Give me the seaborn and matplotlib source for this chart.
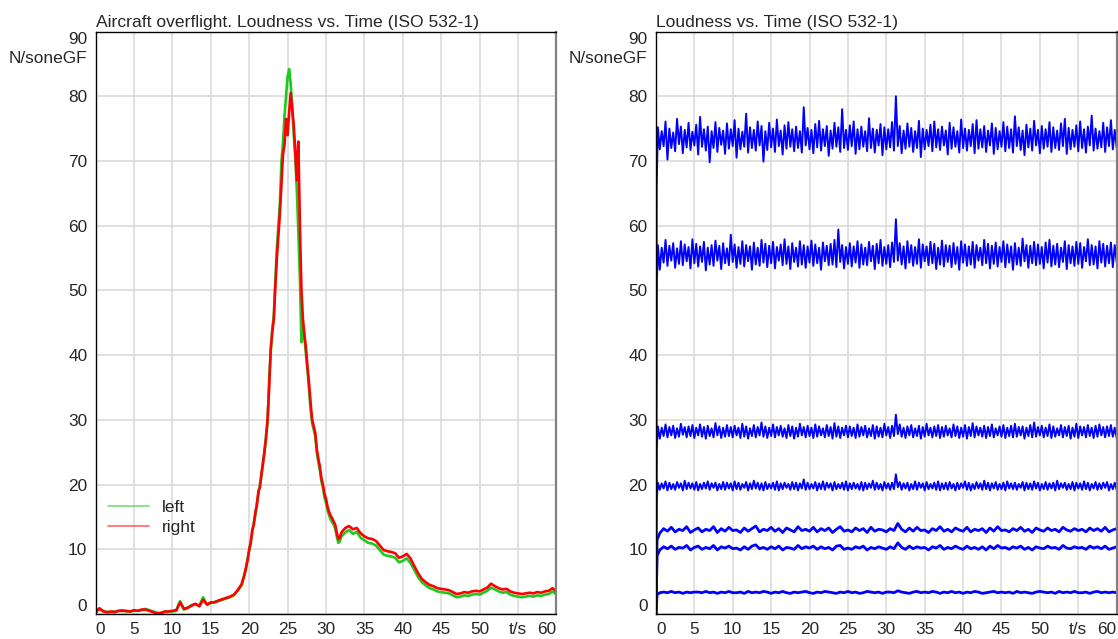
import numpy as np
import pandas as pd
import seaborn as sns
import matplotlib
matplotlib.use("Agg")
import matplotlib.pyplot as plt

sns.set_style("white")
plt.rcParams["font.family"] = ["Liberation Sans", "DejaVu Sans"]
plt.rcParams["font.size"] = 12.3

# --- aircraft overflight, loudness per channel (sone GF) ---
# time grid: 0.5 s up to 18.5 s, 0.2 s around the peak, 0.5 s again afterwards
t_air = np.round(np.concatenate([np.arange(0, 18.51, 0.5),
                                 np.arange(19.0, 31.81, 0.2),
                                 np.arange(32.0, 60.01, 0.5)]), 2)

left_ch = [
    # 0 .. 18.5 s
    0.2, 0.8, 0.5, 0.3, 0.3, 0.4, 0.5, 0.6, 0.4, 0.4,
    0.5, 0.5, 0.6, 0.8, 0.6, 0.4, 0.2, 0.1, 0.3, 0.4,
    0.4, 0.5, 2.0, 0.7, 0.9, 1.4, 1.5, 1.3, 2.6, 1.4,
    1.7, 1.9, 2.0, 2.2, 2.4, 2.6, 2.9, 3.6,
    # 19.0 .. 31.8 s
    4.4, 5.2, 6.3, 7.1, 8.6, 9.8, 11.2, 12.6, 14.2, 15.3,
    17.2, 18.5, 20.1, 21.3, 23.8, 24.8, 27.8, 29.6, 36.5, 40.2,
    44.0, 46.0, 51.5, 56.5, 60.0, 63.5, 70.0, 73.0, 77.0, 80.0,
    83.0, 84.2, 82.0, 78.5, 74.0, 70.5, 65.5, 59.0, 52.0, 42.0,
    44.5, 42.5, 40.0, 37.5, 34.5, 31.5, 29.5, 28.5, 27.5, 25.0,
    23.5, 22.2, 20.5, 19.5, 18.0, 17.2, 16.0, 15.3, 14.6, 14.2,
    13.8, 13.2, 12.0, 11.0, 11.2,
    # 32 .. 60 s
    12.0, 12.6, 13.0, 12.4, 12.7, 11.8, 11.4, 11.0, 10.9, 10.6,
    9.9, 9.2, 9.0, 8.9, 8.7, 8.0, 8.2, 8.6, 7.9, 6.8,
    5.7, 4.9, 4.4, 4.0, 3.8, 3.5, 3.4, 3.3, 3.2, 2.9,
    2.6, 2.7, 2.9, 2.8, 3.0, 3.1, 3.0, 3.3, 3.6, 4.1,
    3.8, 3.5, 3.3, 3.4, 3.0, 2.8, 2.7, 2.6, 2.7, 2.8,
    2.7, 2.9, 2.8, 3.0, 3.1, 3.5, 3.0,
]

right_ch = [
    0.3, 0.9, 0.4, 0.3, 0.4, 0.3, 0.5, 0.5, 0.5, 0.4,
    0.6, 0.5, 0.7, 0.7, 0.5, 0.3, 0.1, 0.2, 0.4, 0.4,
    0.5, 0.6, 1.8, 0.8, 1.0, 1.3, 1.6, 1.2, 2.2, 1.5,
    1.8, 1.8, 2.1, 2.3, 2.5, 2.7, 3.0, 3.7,
    4.6, 5.4, 6.1, 7.3, 8.4, 10.0, 11.0, 13.0, 13.8, 15.7,
    16.8, 19.0, 19.6, 21.8, 23.2, 25.4, 27.2, 30.4, 35.0, 41.0,
    43.5, 45.5, 50.5, 55.0, 58.5, 62.0, 66.5, 71.0, 72.5, 76.5,
    74.0, 77.5, 80.5, 78.0, 75.5, 71.5, 67.0, 73.0, 60.0, 50.0,
    45.5, 43.0, 41.0, 38.0, 35.5, 32.5, 30.0, 29.0, 28.0, 25.5,
    24.0, 22.8, 21.0, 20.0, 18.6, 17.8, 16.6, 15.8, 15.2, 14.8,
    14.3, 13.8, 12.6, 11.6, 11.8,
    12.6, 13.3, 13.6, 13.1, 13.3, 12.5, 12.0, 11.7, 11.6, 11.3,
    10.6, 9.9, 9.7, 9.6, 9.4, 8.7, 8.9, 9.3, 8.6, 7.4,
    6.3, 5.4, 4.9, 4.5, 4.3, 4.0, 3.9, 3.8, 3.7, 3.4,
    3.1, 3.2, 3.4, 3.3, 3.5, 3.6, 3.5, 3.8, 4.1, 4.7,
    4.3, 4.0, 3.8, 3.9, 3.5, 3.3, 3.2, 3.1, 3.2, 3.3,
    3.2, 3.4, 3.3, 3.5, 3.6, 4.0, 3.5,
]

# --- reference signals at several levels (sone GF) ---
# the strong signals: onset samples, then alternating peaks (0.25, 0.75 ...) and
# troughs (0.5, 1.0 ...) of the noisy trace
t_start = [0.0, 0.1]
t_hi = np.round(np.arange(0.25, 60.0, 0.5), 2)
t_lo = np.round(np.arange(0.5, 60.01, 0.5), 2)

ref_74_start = [0, 66.0]
ref_74_hi = [
    75.2, 74.6, 76.1, 75.0, 74.4, 76.5, 75.3, 74.8, 75.9, 74.5,
    75.6, 76.8, 74.9, 75.3, 74.6, 76.0, 75.1, 74.7, 75.8, 74.9,
    76.3, 75.0, 74.5, 77.3, 75.2, 74.8, 76.1, 75.4, 74.6, 75.9,
    75.0, 76.4, 74.7, 75.5, 76.0, 74.9, 75.3, 74.6, 78.3, 75.1,
    74.8, 75.7, 76.2, 74.9, 75.4, 74.7, 75.9, 75.2, 78.0, 74.8,
    75.5, 76.1, 74.9, 75.3, 74.6, 76.6, 75.0, 74.8, 75.7, 75.2,
    74.9, 76.0, 80.0, 75.4, 74.7, 75.8, 75.1, 74.6, 76.2, 75.0,
    74.8, 75.6, 76.1, 74.9, 75.3, 74.7, 75.9, 75.2, 74.6, 76.4,
    75.0, 74.8, 75.7, 76.3, 74.9, 75.4, 74.7, 75.8, 75.1, 74.6,
    76.0, 75.3, 74.9, 76.9, 75.2, 74.7, 75.6, 75.0, 76.2, 74.8,
    75.4, 74.9, 76.0, 75.2, 74.7, 75.8, 76.5, 75.1, 74.8, 75.5,
    76.1, 74.9, 75.3, 77.0, 75.0, 74.6, 75.9, 75.2, 76.3, 74.8,
]
ref_74_lo = [
    71.8, 72.3, 70.2, 72.0, 71.5, 72.6, 71.2, 72.1, 71.7, 72.4,
    71.0, 72.2, 71.6, 69.8, 72.0, 71.4, 72.5, 71.1, 71.9, 72.3,
    70.5, 71.8, 72.2, 71.3, 72.0, 71.6, 72.4, 69.9, 71.7, 72.1,
    71.4, 72.3, 71.0, 71.9, 72.2, 71.5, 72.0, 71.3, 72.4, 71.8,
    71.2, 72.1, 71.6, 72.3, 70.8, 71.9, 72.2, 71.4, 72.0, 71.7,
    72.3, 71.1, 71.8, 72.2, 71.5, 72.0, 71.3, 72.4, 70.9, 71.8,
    72.1, 71.6, 72.3, 71.2, 71.9, 72.2, 71.4, 72.0, 70.6, 71.8,
    72.3, 71.5, 72.1, 71.7, 72.4, 71.0, 71.9, 72.2, 71.3, 72.0,
    71.6, 72.3, 71.2, 71.9, 72.1, 71.4, 72.4, 71.1, 71.8, 72.2,
    71.5, 72.0, 71.3, 72.3, 71.7, 70.9, 72.1, 71.6, 72.4, 71.2,
    71.9, 72.2, 71.4, 72.0, 71.7, 72.3, 71.1, 71.8, 72.2, 71.5,
    72.0, 71.3, 72.4, 71.6, 71.9, 72.1, 71.4, 72.3, 71.8, 72.0,
]

ref_56_start = [0, 50.0]
ref_56_hi = [
    57.0, 56.6, 57.8, 56.9, 57.3, 56.5, 57.6, 57.1, 56.7, 57.9,
    57.2, 56.8, 57.5, 56.6, 57.0, 57.7, 56.9, 57.3, 56.5, 58.6,
    57.1, 56.7, 57.6, 57.0, 56.8, 57.4, 56.6, 57.8, 57.2, 56.9,
    57.5, 56.7, 57.1, 57.9, 56.8, 57.3, 56.6, 57.6, 57.0, 56.8,
    57.7, 57.1, 56.6, 57.4, 56.9, 57.2, 57.8, 59.4, 57.0, 56.7,
    57.3, 56.8, 57.6, 57.1, 56.6, 57.5, 56.9, 57.2, 57.8, 56.7,
    57.0, 57.4, 61.0, 57.3, 56.8, 57.6, 57.0, 56.7, 57.9, 57.1,
    56.8, 57.5, 57.2, 56.6, 57.7, 57.0, 56.9, 57.3, 56.7, 57.6,
    57.1, 56.8, 57.5, 57.0, 56.6, 57.8, 57.2, 56.9, 57.4, 56.7,
    57.6, 57.1, 56.8, 57.3, 56.6, 58.0, 57.0, 56.9, 57.5, 57.1,
    56.7, 57.4, 57.8, 56.9, 57.2, 56.6, 57.6, 57.0, 56.8, 57.5,
    57.3, 56.7, 57.9, 57.0, 56.8, 57.6, 57.2, 56.9, 57.4, 57.0,
]
ref_56_lo = [
    53.2, 54.3, 53.8, 54.6, 53.5, 54.1, 53.9, 54.5, 53.4, 54.2,
    53.7, 54.4, 53.1, 54.0, 53.8, 54.6, 53.3, 54.2, 53.9, 54.4,
    53.5, 54.1, 53.7, 54.5, 53.2, 54.0, 53.8, 54.3, 53.6, 54.2,
    53.4, 54.6, 53.9, 54.1, 53.3, 54.4, 53.7, 54.0, 53.5, 54.3,
    53.8, 54.2, 53.2, 54.5, 53.9, 54.0, 53.6, 54.4, 53.4, 54.1,
    53.7, 54.3, 53.5, 54.0, 53.9, 54.5, 53.3, 54.2, 53.8, 54.1,
    53.6, 54.4, 54.6, 54.0, 53.4, 54.3, 53.8, 54.1, 53.5, 54.5,
    53.9, 54.2, 53.3, 54.0, 53.7, 54.4, 53.6, 54.1, 53.2, 54.3,
    53.8, 54.0, 53.5, 54.6, 53.9, 54.2, 53.4, 54.1, 53.7, 54.4,
    53.6, 54.3, 53.2, 54.0, 53.8, 54.5, 53.5, 54.2, 53.9, 54.1,
    53.4, 54.3, 53.7, 54.0, 53.6, 54.4, 53.3, 54.2, 53.8, 54.1,
    53.5, 54.5, 53.9, 54.0, 53.4, 54.3, 53.7, 54.2, 53.6, 54.4,
]

ref_28_start = [0, 25.5]
ref_28_hi = [
    29.0, 28.8, 29.3, 28.9, 29.1, 28.7, 29.4, 28.9, 29.0, 29.2,
    28.8, 29.3, 28.9, 29.1, 28.7, 29.5, 29.0, 28.8, 29.2, 28.9,
    29.1, 28.8, 29.4, 29.0, 28.7, 29.2, 28.9, 29.6, 29.0, 28.8,
    29.3, 28.9, 29.1, 28.7, 29.2, 29.0, 28.8, 29.4, 28.9, 29.1,
    28.8, 29.3, 29.0, 28.7, 29.2, 28.9, 29.5, 29.0, 28.8, 29.1,
    29.0, 28.8, 29.3, 28.9, 29.1, 28.7, 29.2, 29.0, 28.8, 29.4,
    28.9, 29.1, 30.8, 29.3, 28.8, 29.0, 29.2, 28.7, 29.1, 28.9,
    29.4, 28.8, 29.0, 29.2, 28.9, 29.1, 28.7, 29.3, 29.0, 28.8,
    29.2, 28.9, 29.5, 29.0, 28.8, 29.1, 28.9, 29.3, 28.7, 29.0,
    29.2, 28.8, 29.1, 29.4, 28.9, 29.0, 28.8, 29.2, 29.6, 28.9,
    29.1, 28.8, 29.3, 29.0, 28.7, 29.2, 28.9, 29.1, 28.8, 29.4,
    29.0, 28.9, 29.2, 28.8, 29.1, 29.3, 28.9, 29.0, 29.2, 28.8,
]
ref_28_lo = [
    27.1, 27.5, 27.3, 27.6, 27.2, 27.4, 27.7, 27.3, 27.5, 27.2,
    27.6, 27.4, 27.1, 27.5, 27.3, 27.6, 27.2, 27.4, 27.5, 27.3,
    27.6, 27.2, 27.4, 27.1, 27.5, 27.3, 27.6, 27.4, 27.2, 27.5,
    27.3, 27.6, 27.4, 27.2, 27.5, 27.1, 27.4, 27.6, 27.3, 27.5,
    27.2, 27.4, 27.6, 27.3, 27.5, 27.1, 27.4, 27.2, 27.6, 27.3,
    27.5, 27.2, 27.4, 27.6, 27.3, 27.5, 27.1, 27.4, 27.3, 27.6,
    27.2, 27.5, 27.8, 27.4, 27.2, 27.6, 27.3, 27.5, 27.1, 27.4,
    27.6, 27.3, 27.5, 27.2, 27.4, 27.6, 27.3, 27.5, 27.2, 27.4,
    27.1, 27.5, 27.3, 27.6, 27.4, 27.2, 27.5, 27.3, 27.6, 27.4,
    27.2, 27.5, 27.3, 27.4, 27.6, 27.1, 27.5, 27.3, 27.4, 27.6,
    27.3, 27.5, 27.2, 27.4, 27.6, 27.3, 27.5, 27.1, 27.4, 27.2,
    27.6, 27.3, 27.5, 27.2, 27.4, 27.6, 27.3, 27.5, 27.4, 27.2,
]

ref_20_start = [0, 17.5]
ref_20_hi = [
    20.3, 20.2, 20.5, 20.3, 20.1, 20.4, 20.2, 20.6, 20.3, 20.2,
    20.4, 20.1, 20.3, 20.5, 20.2, 20.3, 20.1, 20.4, 20.3, 20.2,
    20.5, 20.3, 20.1, 20.4, 20.2, 20.6, 20.3, 20.2, 20.4, 20.1,
    20.3, 20.5, 20.2, 20.3, 20.1, 20.4, 20.3, 20.2, 20.8, 20.3,
    20.1, 20.4, 20.2, 20.5, 20.3, 20.2, 20.4, 20.1, 20.3, 20.5,
    20.2, 20.3, 20.1, 20.4, 20.3, 20.2, 20.6, 20.3, 20.1, 20.4,
    20.2, 20.3, 21.6, 20.4, 20.2, 20.3, 20.1, 20.5, 20.3, 20.2,
    20.4, 20.1, 20.3, 20.5, 20.2, 20.3, 20.4, 20.1, 20.3, 20.2,
    20.5, 20.3, 20.1, 20.4, 20.2, 20.6, 20.3, 20.2, 20.4, 20.1,
    20.3, 20.5, 20.2, 20.3, 20.1, 20.4, 20.3, 20.2, 20.5, 20.3,
    20.1, 20.4, 20.2, 20.3, 20.6, 20.2, 20.3, 20.1, 20.4, 20.3,
    20.2, 20.5, 20.3, 20.1, 20.4, 20.2, 20.3, 20.4, 20.1, 20.3,
]
ref_20_lo = [
    19.2, 19.4, 19.1, 19.3, 19.2, 19.5, 19.1, 19.3, 19.4, 19.2,
    19.1, 19.3, 19.4, 19.2, 19.5, 19.1, 19.3, 19.2, 19.4, 19.1,
    19.3, 19.2, 19.5, 19.1, 19.3, 19.4, 19.2, 19.1, 19.3, 19.4,
    19.2, 19.1, 19.3, 19.5, 19.2, 19.3, 19.1, 19.4, 19.2, 19.3,
    19.4, 19.1, 19.3, 19.2, 19.5, 19.1, 19.3, 19.4, 19.2, 19.1,
    19.3, 19.4, 19.2, 19.1, 19.3, 19.5, 19.2, 19.3, 19.1, 19.4,
    19.2, 19.3, 19.6, 19.2, 19.4, 19.1, 19.3, 19.2, 19.5, 19.1,
    19.3, 19.4, 19.2, 19.1, 19.3, 19.2, 19.4, 19.1, 19.3, 19.5,
    19.2, 19.1, 19.3, 19.4, 19.2, 19.3, 19.1, 19.4, 19.2, 19.3,
    19.1, 19.4, 19.3, 19.2, 19.5, 19.1, 19.3, 19.2, 19.4, 19.1,
    19.3, 19.2, 19.4, 19.1, 19.3, 19.5, 19.2, 19.3, 19.1, 19.4,
    19.2, 19.3, 19.1, 19.4, 19.2, 19.3, 19.5, 19.1, 19.3, 19.2,
]

# the weaker signals, sampled at 0, 0.15 and every 0.5 s
t_ref = np.round(np.concatenate([[0.0, 0.15], np.arange(0.5, 60.01, 0.5)]), 2)

ref_13 = [
    0, 11.5,
    12.5, 13.2, 12.8, 13.4, 12.7, 13.1, 12.9, 13.5, 12.6, 13.0,
    13.3, 12.7, 13.1, 12.9, 13.5, 12.6, 13.2, 12.8, 13.4, 12.9,
    13.0, 12.6, 13.3, 12.8, 13.2, 13.6, 12.7, 13.1, 12.9, 13.4,
    12.8, 13.2, 12.6, 13.3, 13.0, 12.7, 13.5, 12.9, 13.1, 12.8,
    13.4, 12.7, 13.2, 12.9, 13.3, 12.6, 13.1, 13.5, 12.8, 13.0,
    12.7, 13.3, 12.9, 13.2, 12.6, 13.4, 12.8, 13.1, 13.0, 12.7,
    13.2, 12.9, 14.0, 13.1, 12.7, 13.3, 12.8, 13.4, 12.9, 13.0,
    12.6, 13.2, 12.9, 13.5, 12.8, 13.1, 12.7, 13.3, 13.0, 12.8,
    13.4, 12.7, 13.1, 12.9, 13.2, 12.6, 13.3, 12.8, 13.5, 12.9,
    13.0, 12.7, 13.2, 12.9, 13.4, 12.8, 13.1, 12.6, 13.3, 13.0,
    12.8, 13.3, 12.9, 13.1, 12.7, 13.4, 13.0, 12.8, 13.2, 12.9,
    13.1, 12.7, 13.3, 12.9, 13.2, 12.8, 13.4, 12.7, 13.0, 13.2,
]

ref_10 = [
    0, 9.0,
    9.9, 10.4, 10.1, 10.5, 10.0, 10.3, 10.2, 10.6, 9.9, 10.3,
    10.5, 10.0, 10.3, 10.1, 10.6, 9.9, 10.4, 10.2, 10.5, 10.1,
    10.2, 9.9, 10.4, 10.0, 10.5, 10.7, 10.1, 10.3, 10.0, 10.4,
    10.1, 10.5, 9.9, 10.3, 10.2, 10.0, 10.6, 10.1, 10.4, 10.2,
    10.5, 10.0, 10.4, 10.1, 10.3, 9.9, 10.5, 10.6, 10.0, 10.2,
    10.0, 10.4, 10.2, 10.5, 9.9, 10.3, 10.1, 10.4, 10.2, 10.0,
    10.4, 10.1, 11.0, 10.3, 10.0, 10.5, 10.1, 10.4, 10.2, 10.3,
    9.9, 10.4, 10.2, 10.6, 10.0, 10.3, 10.1, 10.5, 10.2, 10.0,
    10.5, 10.1, 10.3, 10.0, 10.4, 9.9, 10.5, 10.1, 10.6, 10.2,
    10.3, 10.0, 10.4, 10.2, 10.5, 10.0, 10.3, 9.9, 10.4, 10.2,
    10.1, 10.5, 10.2, 10.3, 10.0, 10.6, 10.2, 10.1, 10.4, 10.2,
    10.3, 10.0, 10.5, 10.2, 10.4, 10.1, 10.5, 10.0, 10.2, 10.4,
]

ref_3 = [
    0, 3.0,
    3.3, 3.4, 3.3, 3.5, 3.3, 3.4, 3.2, 3.4, 3.3, 3.4,
    3.4, 3.3, 3.5, 3.3, 3.4, 3.2, 3.4, 3.3, 3.5, 3.3,
    3.3, 3.4, 3.2, 3.5, 3.3, 3.4, 3.3, 3.5, 3.4, 3.2,
    3.4, 3.3, 3.5, 3.3, 3.2, 3.4, 3.3, 3.4, 3.5, 3.3,
    3.2, 3.4, 3.3, 3.5, 3.4, 3.3, 3.2, 3.4, 3.3, 3.5,
    3.3, 3.4, 3.2, 3.3, 3.5, 3.4, 3.3, 3.4, 3.2, 3.4,
    3.4, 3.3, 3.6, 3.4, 3.3, 3.2, 3.4, 3.5, 3.3, 3.4,
    3.3, 3.5, 3.4, 3.2, 3.4, 3.3, 3.5, 3.3, 3.4, 3.2,
    3.4, 3.3, 3.5, 3.4, 3.2, 3.3, 3.4, 3.5, 3.3, 3.4,
    3.3, 3.4, 3.2, 3.5, 3.3, 3.4, 3.3, 3.2, 3.4, 3.5,
    3.4, 3.3, 3.4, 3.2, 3.5, 3.3, 3.4, 3.3, 3.5, 3.3,
    3.3, 3.4, 3.2, 3.4, 3.5, 3.3, 3.4, 3.3, 3.4, 3.3,
]

x_ticks = list(range(0, 61, 5))
x_labels = [str(v) for v in x_ticks]
x_labels[-2] = "t/s"
y_ticks = list(range(0, 91, 10))
y_labels = [str(v) for v in y_ticks]

GREEN = "#1ec81e"
RED = "#ff0000"
BLUE = "#0000ff"


def style_axes(ax, title):
    ax.set_xlim(0, 60)
    ax.set_ylim(0, 90)
    ax.set_xticks(x_ticks)
    xl = ax.set_xticklabels(x_labels)
    ax.set_yticks(y_ticks)
    yl = ax.set_yticklabels(y_labels)
    xl[0].set_ha("left")
    xl[-1].set_ha("right")
    yl[0].set_va("bottom")
    yl[-1].set_va("top")
    ax.tick_params(axis="both", length=0, labelsize=12.4, pad=6)
    ax.grid(True, color="#d8d8d8", lw=1.1)
    ax.set_axisbelow(True)
    for s in ["left", "bottom", "top"]:
        ax.spines[s].set_color("black")
        ax.spines[s].set_linewidth(1.0)
    ax.spines["right"].set_color("#808080")
    ax.spines["right"].set_linewidth(1.6)
    ax.set_xlabel("")
    ax.set_ylabel("")
    ax.set_title(title, loc="left", fontsize=12.6, pad=3.5)
    ax.text(-0.018, 85.9, "N/soneGF", transform=ax.get_yaxis_transform(),
            ha="right", va="center", fontsize=12.4)


fig = plt.figure(figsize=(11.18, 6.39), dpi=100)
ax1 = fig.add_axes([0.0855, 0.039, 0.4122, 0.9117])
ax2 = fig.add_axes([0.5867, 0.039, 0.4121, 0.9117])

air = pd.DataFrame({"t": t_air, "left": left_ch, "right": right_ch})
sns.lineplot(data=air, x="t", y="left", color=GREEN, lw=1.9, label="left", ax=ax1)
sns.lineplot(data=air, x="t", y="right", color=RED, lw=1.9, label="right", ax=ax1)

# strong signals: onset + peaks + troughs merged (lineplot sorts by t)
t_strong = np.concatenate([t_start, t_hi, t_lo])
for start, hi, lo in [(ref_74_start, ref_74_hi, ref_74_lo),
                      (ref_56_start, ref_56_hi, ref_56_lo),
                      (ref_28_start, ref_28_hi, ref_28_lo),
                      (ref_20_start, ref_20_hi, ref_20_lo)]:
    sns.lineplot(x=t_strong, y=start + hi + lo, color=BLUE, lw=1.4,
                 ax=ax2, legend=False)
for level in [ref_13, ref_10, ref_3]:
    sns.lineplot(x=t_ref, y=level, color=BLUE, lw=2.0, ax=ax2, legend=False)

style_axes(ax1, "Aircraft overflight. Loudness vs. Time (ISO 532-1)")
style_axes(ax2, "Loudness vs. Time (ISO 532-1)")

h, l = ax1.get_legend_handles_labels()
leg = ax1.legend(h, l, loc="lower left", bbox_to_anchor=(0.027, 0.135),
                 frameon=False, borderpad=0, borderaxespad=0,
                 handlelength=2.35, handletextpad=0.75, labelspacing=0.3,
                 fontsize=12.4)
for line in leg.get_lines():
    line.set_alpha(0.55)
    line.set_linewidth(1.3)

fig.savefig("out.png", dpi=100)
